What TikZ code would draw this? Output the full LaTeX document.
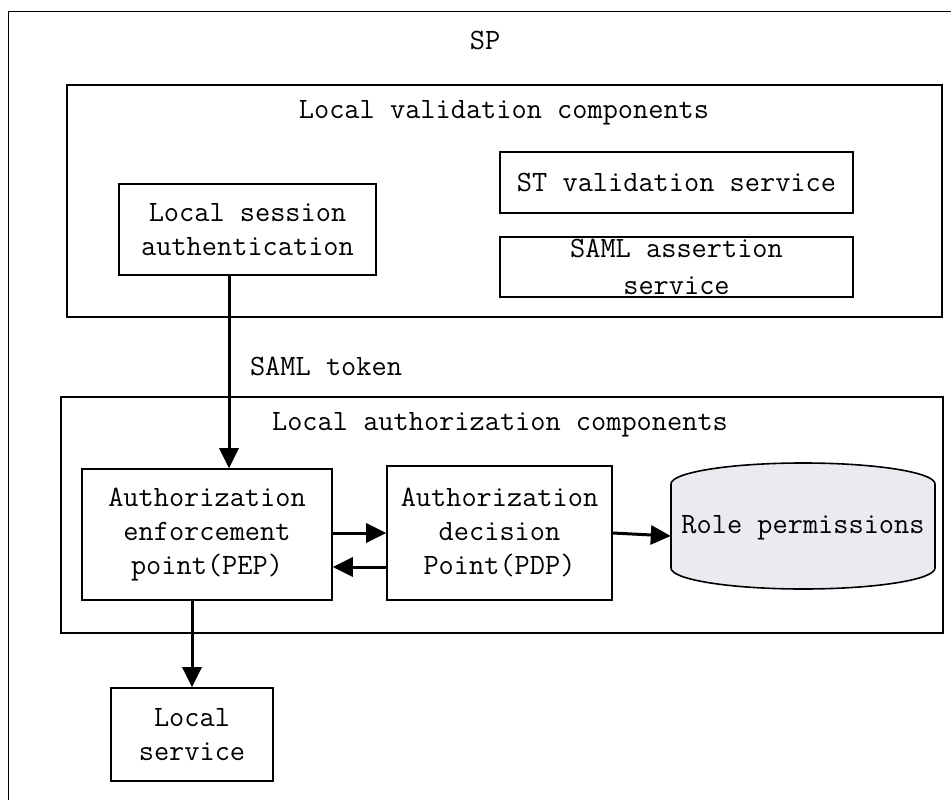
\documentclass[tikz,border=0pt]{standalone}
\usepackage{fontspec}
\usetikzlibrary{arrows.meta}
\definecolor{rolefill}{HTML}{ECE9F1}
\tikzset{
  txt/.style={font=\ttfamily\fontsize{29.5}{34}\selectfont, align=center, inner sep=0pt},
  box/.style={txt, draw, line width=1.6pt, rectangle},
  arr/.style={line width=3pt, -{Triangle[length=20pt,width=19pt]}},
}
\begin{document}
\begin{tikzpicture}[x=1pt,y=1pt]
\useasboundingbox (0,0) rectangle (951,-800);
\clip (0,0) rectangle (951,-800);
% outer SP frame
\node[draw, line width=1pt, minimum width=960pt, minimum height=810pt, anchor=north west] (spbox) at (8,-11) {};
\node[txt] (sp) at (485,-40) {SP};
% local validation components
\node[draw, line width=2.5pt, minimum width=875pt, minimum height=232pt] (lvc) at (504.5,-201) {};
\node[txt] (lvct) at (504,-113) {Local validation components};
\node[box, minimum width=257pt, minimum height=91pt] (lsa) at (247.5,-229.5) {Local session\\authentication};
\node[box, minimum width=353pt, minimum height=61pt] (stv) at (676.5,-182.5) {ST validation service};
\node[box, minimum width=353pt, minimum height=60pt, font=\ttfamily\fontsize{29.5}{37}\selectfont] (saml) at (676.5,-267) {SAML assertion\\service};
% token label
\node[txt] (tok) at (326,-366) {SAML token};
% local authorization components
\node[draw, line width=1.6pt, minimum width=882pt, minimum height=236pt] (lac) at (502,-515) {};
\node[txt] (lact) at (500,-425) {Local authorization components};
\node[box, minimum width=250pt, minimum height=131pt] (pep) at (207,-534.5) {Authorization\\enforcement\\point(PEP)};
\node[box, minimum width=225pt, minimum height=134pt] (pdp) at (499.5,-533) {Authorization\\decision\\Point(PDP)};
% role permissions cylinder
\draw[line width=1.6pt, fill=rolefill] (671,-484) arc[start angle=180, end angle=0, x radius=132pt, y radius=21pt]
  -- (935,-568) arc[start angle=0, end angle=-180, x radius=132pt, y radius=21pt] -- cycle;
\node[txt, minimum width=264pt, minimum height=126pt] (role) at (803,-528) {Role permissions};
% local service
\node[box, minimum width=162pt, minimum height=93pt] (ls) at (192,-734.5) {Local\\service};
% connectors
\draw[arr] ([xshift=-18.5pt]lsa.south) -- ([xshift=22pt]pep.north);
\draw[arr] (pep.east |- pdp.west) -- (pdp.west);
\draw[arr] ([yshift=-34pt]pdp.west) -- ([yshift=-34pt]pdp.west -| pep.east);
\draw[arr] (pdp.east) -- ([yshift=-8pt]role.west);
\draw[arr] (ls.north |- pep.south) -- (ls.north);
\end{tikzpicture}
\end{document}
